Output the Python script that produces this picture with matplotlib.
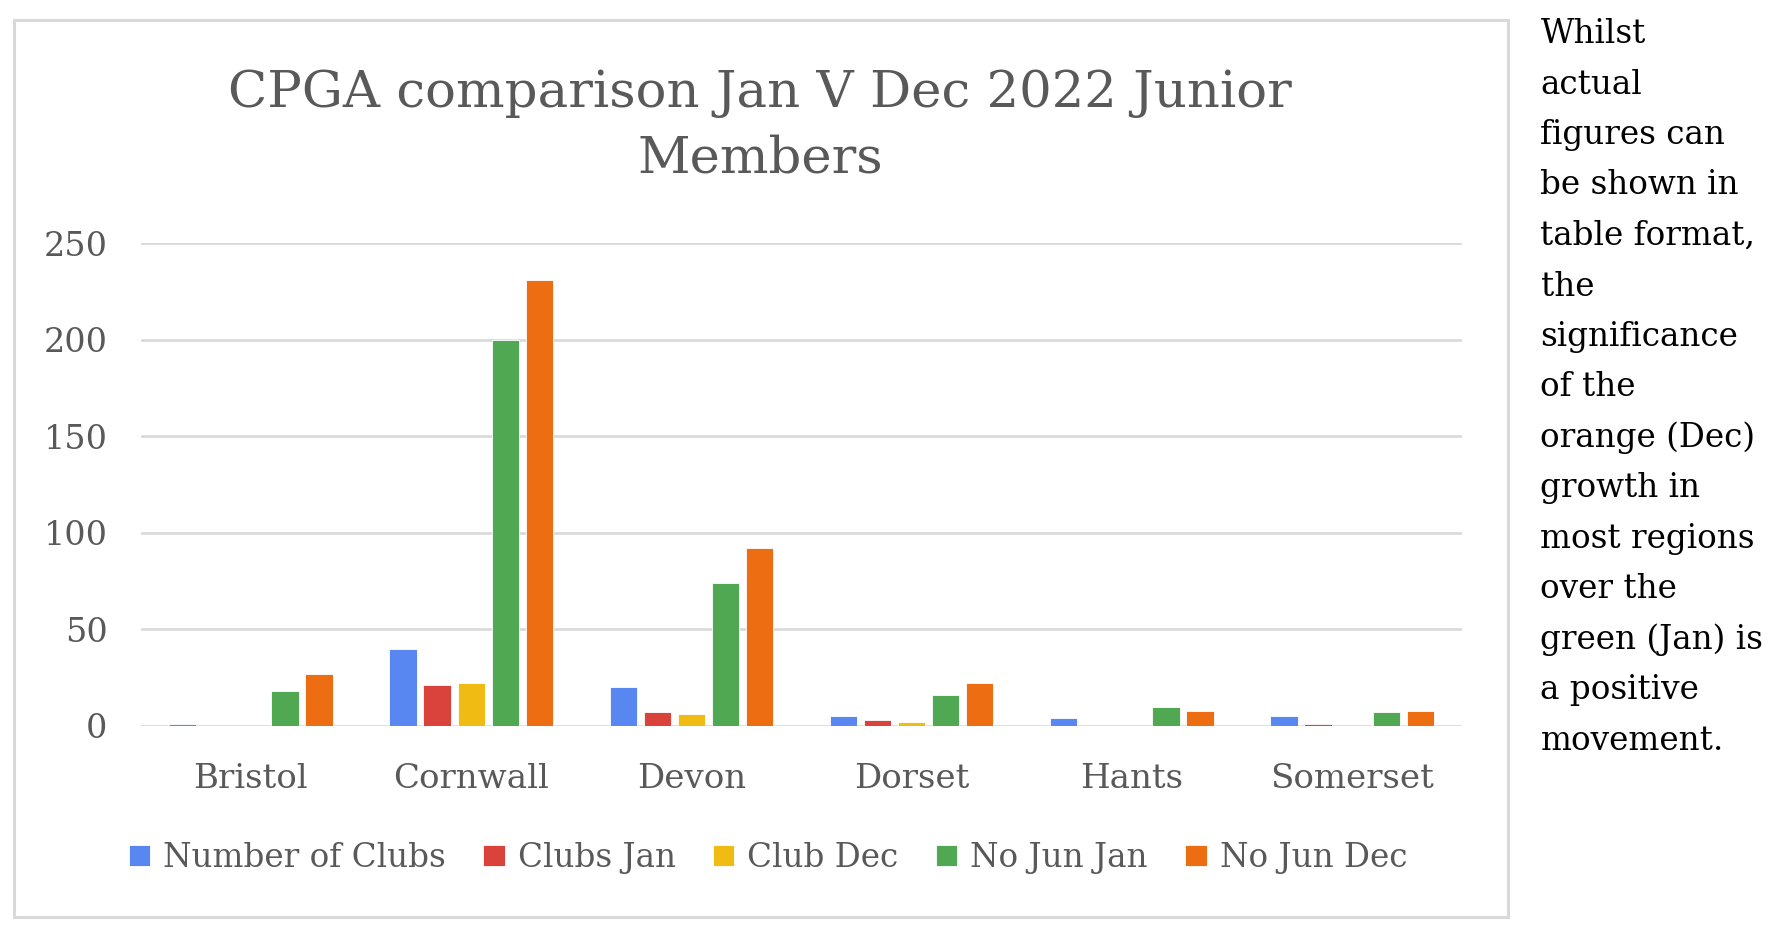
import matplotlib
matplotlib.use("Agg")
import matplotlib.pyplot as plt
import numpy as np

categories = ["Bristol", "Cornwall", "Devon", "Dorset", "Hants", "Somerset"]
series_names = ["Number of Clubs", "Clubs Jan", "Club Dec", "No Jun Jan", "No Jun Dec"]
number_of_clubs = [1, 40, 20, 5, 4, 5]
clubs_jan = [0, 21, 7, 3, 0, 1]
club_dec = [0, 22, 6, 2, 0, 0]
no_jun_jan = [18, 200, 74, 16, 10, 7]
no_jun_dec = [27, 231, 92, 22, 8, 8]
y_ticks = [0, 50, 100, 150, 200, 250]
title_text = "CPGA comparison Jan V Dec 2022 Junior\nMembers"
side_lines = ["Whilst", "actual", "figures can", "be shown in", "table format,",
              "the", "significance", "of the", "orange (Dec)", "growth in",
              "most regions", "over the", "green (Jan) is", "a positive", "movement."]

colors = ["#5987F2", "#D9433B", "#F0BB13", "#51A852", "#ED6D12"]
text_gray = "#595959"
grid_gray = "#D9D9D9"
FONT = ["DejaVu Serif"]

W, H = 1780, 931
fig = plt.figure(figsize=(W / 100, H / 100), dpi=100)
fig.patch.set_facecolor("white")

# chart border
border = plt.Rectangle((13.6 / W, 1 - 917.3 / H), (1507.6 - 13.6) / W, (917.3 - 20.4) / H,
                       transform=fig.transFigure, fill=False, edgecolor=grid_gray, linewidth=2.2)
fig.add_artist(border)

ax = fig.add_axes([140.8 / W, 1 - 726 / H, (1462.2 - 140.8) / W, (726 - 243) / H])
series = [number_of_clubs, clubs_jan, club_dec, no_jun_jan, no_jun_dec]
x = np.arange(len(categories))
pitch = 0.1546
bw = 0.1237
for i, (name, vals) in enumerate(zip(series_names, series)):
    ax.bar(x + (i - 2) * pitch, vals, width=bw, color=colors[i], label=name,
           edgecolor="white", linewidth=0.6, zorder=3)

ax.set_xlim(-0.5, len(categories) - 0.5)
ax.set_ylim(0, 250)
ax.set_yticks(y_ticks)
ax.yaxis.grid(True, color=grid_gray, linewidth=1.9, zorder=0)
ax.set_axisbelow(True)
for s in ax.spines.values():
    s.set_visible(False)
ax.tick_params(axis="both", length=0)
ax.tick_params(axis="y", pad=24, labelsize=24, labelcolor=text_gray)
ax.tick_params(axis="x", pad=27, labelsize=24.5, labelcolor=text_gray)
ax.set_xticks(x)
ax.set_xticklabels(categories)
for lab in ax.get_xticklabels() + ax.get_yticklabels():
    lab.set_family(FONT)

fig.text(760 / W, 1 - 126 / H, title_text, ha="center", va="center", fontsize=37,
         color=text_gray, family=FONT, linespacing=1.4)

leg = fig.legend(loc="center", bbox_to_anchor=(768 / W, 1 - 858 / H), ncol=5, frameon=False,
                 prop={"family": FONT, "size": 23.5}, handlelength=0.65, handleheight=0.65,
                 handletextpad=0.4, columnspacing=1.15)
for t in leg.get_texts():
    t.set_color(text_gray)

y0 = 34
dy = 50.5
for k, line in enumerate(side_lines):
    fig.text(1540.5 / W, 1 - (y0 + k * dy) / H, line, ha="left", va="center",
             fontsize=23.5, color="black", family=FONT)

fig.savefig("out.png", dpi=100)
